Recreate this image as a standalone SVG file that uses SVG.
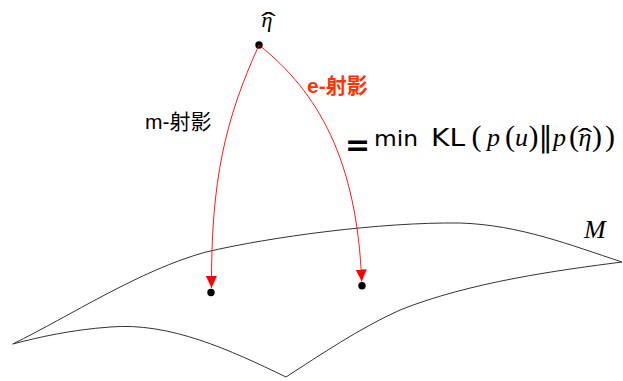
<svg xmlns="http://www.w3.org/2000/svg" width="623" height="381" viewBox="0 0 623 381">
<style>
.surf{fill:none;stroke:#333;stroke-width:1}
.arr{fill:none;stroke:#ff0000;stroke-width:0.9}
.dot{fill:#000}
.lbl{font-family:"Liberation Sans","Noto Sans CJK SC",sans-serif;font-size:21px}
.math{font-family:"Liberation Serif","DejaVu Serif",serif;font-style:italic}
.rm{font-family:"Liberation Serif","DejaVu Serif",serif;font-style:normal}
.sans{font-family:"DejaVu Sans",sans-serif}
.par{font-size:30px}
.var{font-size:26px}
</style>
<defs>
<marker id="ah" markerUnits="userSpaceOnUse" markerWidth="12" markerHeight="11" viewBox="0 0 12 11" refX="12" refY="5.5" orient="auto">
<path d="M0,0 L12,5.5 L0,11 z" fill="#ff0000"/>
</marker>
</defs>
<g id="surface">
<path class="surf" d="M12.7,344 C70,316 140,270 206,252 C270,237 380,222 460,223 C520,225 570,245 622,262 C560,270 470,282 400,310 C360,328 320,355 286,377 C230,350 170,322 110,327 C70,330 40,337 12.7,344 Z"/>
<text x="584" y="238" class="math" font-size="26">M</text>
</g>
<g id="eta-hat">
<circle class="dot" cx="259" cy="45" r="3.7"/>
<text x="261.5" y="27" class="math" font-size="22">η</text>
<text x="0" y="0" class="rm" font-size="26" transform="translate(261,30) scale(1.7,1)">ˆ</text>
</g>
<g id="m-proj">
<circle class="dot" cx="211" cy="292.5" r="3.7"/>
</g>
<g id="e-proj">
<circle class="dot" cx="362" cy="285.7" r="3.7"/>
</g>
<g id="connectors">
<path class="arr" d="M259,45 C225,120 211,180 211.5,288" marker-end="url(#ah)"/>
<path class="arr" d="M259,45 C318,92 357,160 361.7,281.5" marker-end="url(#ah)"/>
</g>
<g id="labels">
<text x="145" y="128.5" class="lbl">m-射影</text>
<text x="307" y="92.5" class="lbl" font-weight="bold" fill="#ff3300">e-射影</text>
</g>
<g id="formula">
<text x="345" y="155" class="sans" font-size="30" font-weight="bold">=</text>
<text x="374" y="145.7" class="sans" font-size="22" textLength="44" lengthAdjust="spacingAndGlyphs">min</text>
<text x="431" y="145.7" class="sans" font-size="24" textLength="34" lengthAdjust="spacingAndGlyphs">KL</text>
<text y="146" class="rm"><tspan x="471.5" class="par">(</tspan><tspan x="487" class="math var">p</tspan><tspan x="505" class="par">(</tspan><tspan x="515" class="math var">u</tspan><tspan x="528.5" class="par">)</tspan><tspan x="538.5" class="sans" font-size="28" dy="1">‖</tspan><tspan x="553" class="math var" dy="-1">p</tspan><tspan x="569" class="par">(</tspan><tspan x="578.5" class="math var">η</tspan><tspan x="592" class="par">)</tspan><tspan x="605" class="par">)</tspan></text>
<text x="0" y="0" class="rm" font-size="26" transform="translate(577.5,146.3) scale(1.7,1)">ˆ</text>
</g>
</svg>
